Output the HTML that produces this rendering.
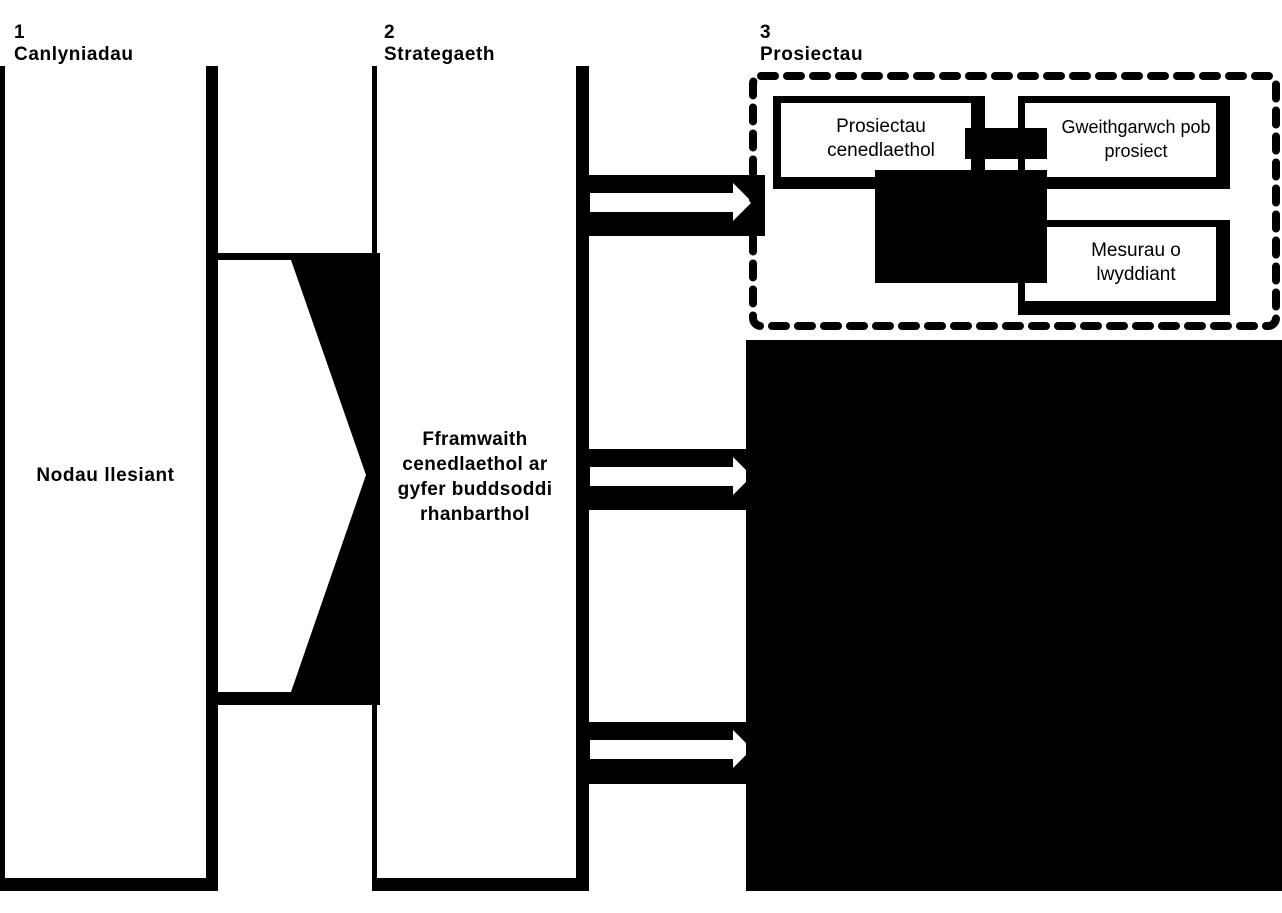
<!DOCTYPE html>
<html><head><style>
body{margin:0;width:1282px;height:913px;background:#fff;position:relative;overflow:hidden;font-family:"Liberation Sans",Arial,sans-serif}
div{position:absolute;box-sizing:border-box}
.b{background:#000}
.w{background:#fff}
.h{font-weight:bold;font-size:19px;line-height:22px;letter-spacing:0.6px}
.t{font-size:19px;line-height:24px;text-align:center;color:#000}
</style></head><body>
<div class="h" style="left:14px;top:22px">1<br>Canlyniadau</div>
<div class="h" style="left:384px;top:22px">2<br>Strategaeth</div>
<div class="h" style="left:760px;top:22px">3<br>Prosiectau</div>

<div class="b" style="left:0;top:66px;width:218px;height:825px"></div>
<div class="w" style="left:5px;top:66px;width:201px;height:812px"></div>
<div class="h" style="left:5px;top:465px;width:201px;text-align:center">Nodau llesiant</div>
<div class="b" style="left:372px;top:66px;width:217px;height:825px"></div>
<div class="w" style="left:377px;top:66px;width:199px;height:812px"></div>
<div class="h" style="left:370px;top:427px;width:210px;text-align:center;line-height:25px;letter-spacing:0.4px">Fframwaith<br>cenedlaethol ar<br>gyfer buddsoddi<br>rhanbarthol</div>

<svg style="position:absolute;left:0;top:0" width="1282" height="913">
<rect x="206" y="253" width="174" height="452" fill="#000"/>
<polygon points="218,260 291,260 366,475 291,692 218,692" fill="#fff"/>
<rect x="589" y="175" width="176" height="61" fill="#000"/>
<polygon points="590,193 733,193 733,183 752,202 733,221 733,212 590,212" fill="#fff"/>
<rect x="589" y="449" width="160" height="61" fill="#000"/>
<polygon points="590,467 733,467 733,457 752,476 733,495 733,486 590,486" fill="#fff"/>
<rect x="589" y="722" width="160" height="62" fill="#000"/>
<polygon points="590,740 733,740 733,730 752,749 733,768 733,759 590,759" fill="#fff"/>
<rect x="746" y="340" width="536" height="551" fill="#000"/>
<rect x="753" y="76" width="523" height="250" rx="8" fill="none" stroke="#000" stroke-width="8" stroke-dasharray="14 12" stroke-linecap="round"/>
</svg>

<div class="b" style="left:773px;top:96px;width:212px;height:93px"></div>
<div class="w" style="left:781px;top:103px;width:190px;height:74px"></div>
<div class="t" style="left:781px;top:115px;width:200px">Prosiectau<br>cenedlaethol</div>
<div class="b" style="left:1018px;top:96px;width:212px;height:93px"></div>
<div class="w" style="left:1025px;top:103px;width:191px;height:74px"></div>
<div class="t" style="left:1040px;top:115px;width:192px;font-size:18px">Gweithgarwch pob<br>prosiect</div>
<div class="b" style="left:1018px;top:220px;width:212px;height:95px"></div>
<div class="w" style="left:1025px;top:227px;width:191px;height:74px"></div>
<div class="t" style="left:1040px;top:239px;width:192px">Mesurau o<br>lwyddiant</div>
<div class="b" style="left:875px;top:170px;width:172px;height:113px"></div>
<div class="b" style="left:965px;top:128px;width:82px;height:31px"></div>
</body></html>
